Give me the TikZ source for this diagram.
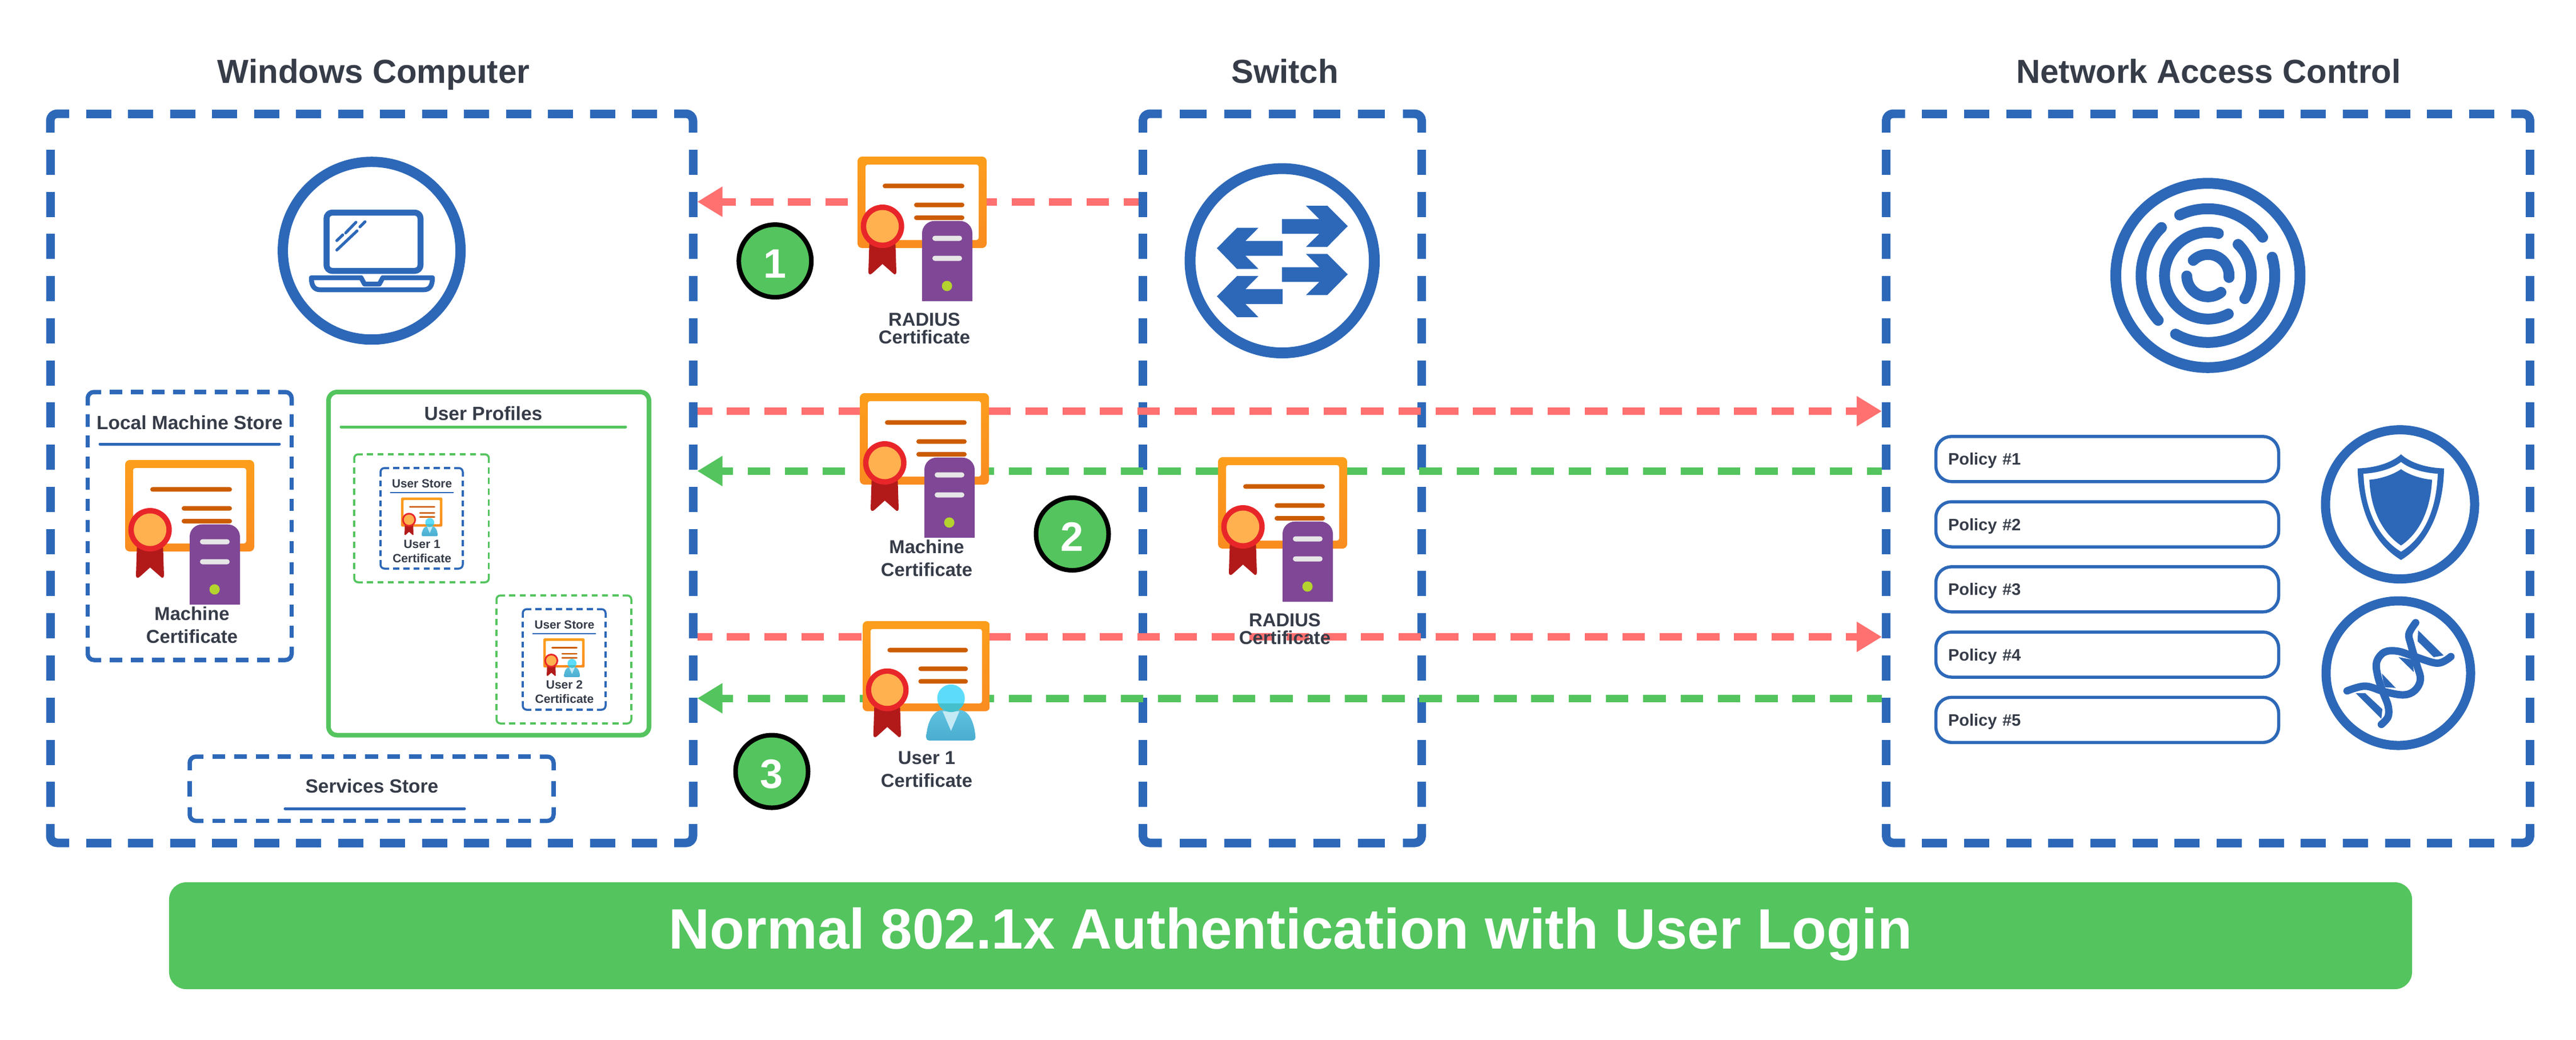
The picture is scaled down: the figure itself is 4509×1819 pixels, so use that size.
\documentclass[tikz,border=0pt]{standalone}
\usepackage{fontspec}
\setmainfont{Liberation Sans}
\usetikzlibrary{arrows.meta}
\definecolor{netblue}{HTML}{2D68B8}
\definecolor{okgreen}{HTML}{54C45E}
\definecolor{reqred}{HTML}{FF7070}
\definecolor{inkdark}{HTML}{363C48}
\definecolor{certtop}{HTML}{FC9E1C}
\definecolor{certbot}{HTML}{FA8C20}
\definecolor{certline}{HTML}{CC5C00}
\definecolor{ribbon}{HTML}{B21A1A}
\definecolor{medalring}{HTML}{E8262A}
\definecolor{medalcore}{HTML}{FFB04F}
\definecolor{srvpurple}{HTML}{7F4796}
\definecolor{srvslot}{HTML}{E6E6E6}
\definecolor{srvled}{HTML}{B5D32E}
\definecolor{userhead}{HTML}{5CDCFA}
\definecolor{usertop}{HTML}{5FC2E0}
\definecolor{userbot}{HTML}{4AADD0}
\definecolor{userneck}{HTML}{45BFCB}
\definecolor{usertie}{HTML}{C4EAF5}
\tikzset{
  head_text/.style={anchor=base,text=inkdark,font=\bfseries\fontsize{11.65}{14}\selectfont},
  store_text/.style={anchor=base,text=inkdark,font=\bfseries\fontsize{6.7}{8}\selectfont},
  cert_text/.style={anchor=base,text=inkdark,align=center,font=\bfseries\fontsize{6.55}{8}\selectfont},
  tight_text/.style={anchor=base,text=inkdark,align=center,font=\bfseries\fontsize{6.55}{6.2}\selectfont},
  mini_title/.style={anchor=base,text=inkdark,font=\bfseries\fontsize{4.15}{5}\selectfont},
  mini_text/.style={anchor=base,text=inkdark,align=center,font=\bfseries\fontsize{4.2}{5}\selectfont},
  big_box/.style={outer sep=1.5pt,minimum height=255.2pt,inner sep=0pt},
  frame_big/.style={netblue,line width=3pt,rounded corners=2.4pt},
  frame_mid/.style={netblue,line width=1.5pt,rounded corners=2.2pt},
  frame_miniblue/.style={netblue,line width=.7pt,rounded corners=1.4pt},
  frame_minigreen/.style={okgreen,line width=.7pt,rounded corners=1.4pt},
  icon_ring/.style={circle,draw=netblue,line width=#1,inner sep=0pt},
  policy_box/.style={draw=netblue,line width=1.1pt,rounded corners=5.5pt,text=inkdark,align=left,minimum height=15.8pt,text width=111.4pt,text depth=0pt,inner xsep=4.3pt,inner ysep=0pt,font=\bfseries\fontsize{5.8}{7}\selectfont},
  step_mark/.style={circle,fill=okgreen,draw=black,line width=1.6pt,minimum size=25.4pt,inner sep=0pt,text=white,text height=11.8pt,text depth=0pt,font=\bfseries\fontsize{14.4}{16}\selectfont},
  req_arrow/.style={draw=reqred,line width=2.6pt,dash pattern=on 7.9pt off 5.16pt,dash phase=2.7pt,->},
  ok_arrow/.style={draw=okgreen,line width=2.6pt,dash pattern=on 7.9pt off 5.16pt,dash phase=2.7pt,->},
}
% fits whole dashes between the corner pieces of a side
\newcommand{\dashfit}[3]{%
  \pgfmathsetmacro{\fitlen}{#1}
  \pgfmathsetmacro{\fitn}{max(1,round((\fitlen-#3)/(#2+#3)))}
  \pgfmathsetmacro{\fitf}{\fitlen/(\fitn*(#2+#3)+#3)}
  \pgfmathsetmacro{\fitdash}{.2*#2*\fitf}
  \pgfmathsetmacro{\fitgap}{#3*\fitf}
  \pgfmathsetmacro{\fitgappt}{.2*\fitgap}}
% style, left, top, right, bottom, corner leg, dash, gap
\newcommand{\dashframe}[8]{%
  \draw [#1] ({#2+#6},#3) -- (#2,#3) -- (#2,{#3+#6});
  \draw [#1] ({#4-#6},#3) -- (#4,#3) -- (#4,{#3+#6});
  \draw [#1] ({#2+#6},#5) -- (#2,#5) -- (#2,{#5-#6});
  \draw [#1] ({#4-#6},#5) -- (#4,#5) -- (#4,{#5-#6});
  \dashfit{#4-#2-2*#6}{#7}{#8}
  \draw [#1,dash pattern=on \fitdash pt off \fitgappt pt] ({#2+#6+\fitgap},#3) -- ({#4-#6-\fitgap},#3);
  \draw [#1,dash pattern=on \fitdash pt off \fitgappt pt] ({#2+#6+\fitgap},#5) -- ({#4-#6-\fitgap},#5);
  \dashfit{#5-#3-2*#6}{#7}{#8}
  \draw [#1,dash pattern=on \fitdash pt off \fitgappt pt] (#2,{#3+#6+\fitgap}) -- (#2,{#5-#6-\fitgap});
  \draw [#1,dash pattern=on \fitdash pt off \fitgappt pt] (#4,{#3+#6+\fitgap}) -- (#4,{#5-#6-\fitgap});}
% certificate sheet with ribbon, origin at the top left corner of the frame
\newcommand{\certbase}[3]{%
  \begin{scope}[shift={(#1,#2)},scale=#3]
    \pgfmathsetmacro{\certr}{#3*1.6}
    \pgfmathsetmacro{\certm}{#3*.8}
    \shade[top color=certtop,bottom color=certbot,rounded corners=\certr pt] (0,0) rectangle (226,160);
    \fill[white,rounded corners=\certm pt] (14,14) rectangle (212,146);
    \fill[certline,rounded corners=\certm pt] (44,47.4) rectangle (187,55.4);
    \fill[certline,rounded corners=\certm pt] (99,80.6) rectangle (187,88.6);
    \fill[certline,rounded corners=\certm pt] (99,103) rectangle (187,111);
    \fill[ribbon] (21,140) -- (66,140) -- (68,202) .. controls (68,207) and (64,207) .. (62,204) -- (43.7,188) -- (26,204) .. controls (23,207) and (19,207) .. (19,202) -- cycle;
    \fill[medalring] (43.7,122) circle (38);
    \fill[medalcore] (43.7,122) circle (28.5);
  \end{scope}}
\newcommand{\certserver}[3]{%
  \certbase{#1}{#2}{#3}
  \begin{scope}[shift={(#1,#2)},scale=#3]
    \pgfmathsetmacro{\certm}{#3*.9}
    \fill[srvpurple] (113,253) -- (113,134) .. controls (113,122) and (123,112.6) .. (135,112.6) -- (179,112.6) .. controls (191,112.6) and (201,122) .. (201,134) -- (201,253) -- cycle;
    \fill[srvslot,rounded corners=\certm pt] (131,138.5) rectangle (183,147.5);
    \fill[srvslot,rounded corners=\certm pt] (131,173.5) rectangle (183,182.5);
    \fill[srvled] (156.6,226.4) circle (9);
  \end{scope}}
\newcommand{\certuser}[3]{%
  \certbase{#1}{#2}{#3}
  \begin{scope}[shift={(#1,#2)},scale=#3]
    \shade[top color=usertop,bottom color=userbot] (113,207) .. controls (114,182) and (124,158) .. (142,158) -- (172,158) .. controls (190,158) and (199,182) .. (200.5,207) .. controls (200.5,210) and (198,212) .. (195,212) -- (118,212) .. controls (115,212) and (113,210) .. (113,207) -- cycle;
    \fill[usertie] (142,160) -- (172,160) -- (157,195) -- cycle;
    \fill[userhead] (157,137) circle (24.5);
    \begin{scope}
      \clip (100,147) rectangle (210,170);
      \fill[userneck] (157,137) circle (24.5);
    \end{scope}
  \end{scope}}
\begin{document}
\begin{tikzpicture}[x=.2pt,y=-.2pt,>={Triangle[length=8.8pt,width=10pt]},line join=bevel]
\useasboundingbox (0,0) rectangle (4509,1819);
%%
\node (title_windows) at (654,145) [head_text] {Windows Computer};
\node (title_switch) at (2249,145) [head_text] {Switch};
\node (title_nac) at (3866,145) [head_text] {Network Access Control};
\node (box_windows) at (650.5,837) [big_box,minimum width=225pt] {};
\node (box_switch) at (2244.5,837) [big_box,minimum width=97.6pt] {};
\node (box_nac) at (3865,837) [big_box,minimum width=225.4pt] {};
\dashframe{frame_big}{88}{199}{1213}{1475}{33}{44}{29.7}
\dashframe{frame_big}{2000.5}{199}{2488.5}{1475}{33}{44}{29.7}
\dashframe{frame_big}{3301.5}{199}{4428.5}{1475}{33}{44}{29.7}
%% computer side
\node (ring_laptop) at (650.6,438.7) [icon_ring=3.6pt,minimum size=62.2pt] {};
\draw [netblue,line width=2.1pt,rounded corners=2pt] (571.6,372) rectangle (736,474);
\draw [netblue,line width=1.7pt,line join=round] (545,486) -- (632,486) -- (638,497) -- (664,497) -- (670,486) -- (757,486) .. controls (757,500) and (752,507) .. (742,507) -- (560,507) .. controls (550,507) and (545,500) .. (545,486) -- cycle;
\draw [netblue,line width=1pt,line cap=round] (589.6,437.5) -- (625,404);
\draw [netblue,line width=1pt,line cap=round] (589.6,421) -- (600,411);
\draw [netblue,line width=1pt,line cap=round] (605,407.6) -- (623,389);
\draw [netblue,line width=1pt,line cap=round] (630,397) -- (639,388);
\dashframe{frame_mid}{153.5}{686}{510.5}{1155}{23.5}{22}{15.5}
\node (text_local) at (332,751) [store_text] {Local Machine Store};
\draw [netblue,line width=1pt,line cap=round] (175,777) -- (489,777);
\certserver{219}{805}{1}
\node (text_machine_local) at (336,1125) [cert_text] {Machine\\Certificate};
\node (box_profiles) at (855.5,986.25) [draw=okgreen,line width=1.6pt,rounded corners=3pt,minimum width=112.2pt,minimum height=120.1pt,inner sep=0pt] {};
\node (text_profiles) at (846,735) [store_text] {User Profiles};
\draw [okgreen,line width=1pt,line cap=round] (597,747) -- (1095,747);
\dashframe{frame_minigreen}{620}{795}{855.7}{1019}{15}{11}{7.8}
\dashframe{frame_miniblue}{666}{819}{810}{995}{15}{11}{7.2}
\node (text_store1) at (738.6,853.6) [mini_title] {User Store};
\draw [netblue,line width=.4pt] (682.5,862) -- (793.6,862);
\certuser{702}{870.5}{.32}
\node (text_user1) at (738.6,984) [mini_text] {User 1\\Certificate};
\dashframe{frame_minigreen}{869}{1042}{1105}{1266}{15}{11}{7.8}
\dashframe{frame_miniblue}{915}{1066}{1060}{1242}{15}{11}{7.2}
\node (text_store2) at (988,1100) [mini_title] {User Store};
\draw [netblue,line width=.4pt] (932,1109) -- (1043,1109);
\certuser{951}{1117}{.32}
\node (text_user2) at (988,1230) [mini_text] {User 2\\Certificate};
\dashframe{frame_mid}{332}{1324}{969}{1436.5}{24}{22}{15.5}
\node (text_services) at (651,1387) [store_text] {Services Store};
\draw [netblue,line width=1pt,line cap=round] (499,1415) -- (813,1415);
%% switch icon
\node (ring_switch) at (2244.3,456.3) [icon_ring=3.8pt,minimum size=64.5pt] {};
\fill [netblue] (2244,383.3) -- (2309.3,383.3) -- (2286,360) -- (2323.3,360) -- (2359,395.7) -- (2323.3,432) -- (2286,432) -- (2309.3,409) -- (2244,409) -- cycle;
\fill [netblue] (2244,467.6) -- (2309.3,467.6) -- (2286,444.3) -- (2323.3,444.3) -- (2359,480) -- (2323.3,516.3) -- (2286,516.3) -- (2309.3,493.3) -- (2244,493.3) -- cycle;
\fill [netblue] (2245,421.7) -- (2180,421.7) -- (2202.7,398.7) -- (2165.3,398.7) -- (2130,434.3) -- (2165.3,470.7) -- (2202.7,470.7) -- (2180,447.7) -- (2245,447.7) -- cycle;
\fill [netblue] (2245,506) -- (2180,506) -- (2202.7,483) -- (2165.3,483) -- (2130,518.6) -- (2165.3,555) -- (2202.7,555) -- (2180,532) -- (2245,532) -- cycle;
%% access control icons
\node (ring_nac) at (3864.7,482) [icon_ring=3.8pt,minimum size=64.5pt] {};
\begin{scope}[shift={(3864.7,482.3)},x=1pt,y=1pt,netblue,line width=3.8pt,line cap=round]
  \draw (115:23.4) arc[start angle=115,end angle=35,radius=23.4pt];
  \draw (16:23.4) arc[start angle=16,end angle=-119,radius=23.4pt];
  \draw (134:23.4) arc[start angle=134,end angle=222,radius=23.4pt];
  \draw (76:15.2) arc[start angle=76,end angle=298,radius=15.2pt];
  \draw (46:15.2) arc[start angle=46,end angle=-32,radius=15.2pt];
  \draw (134:7.4) arc[start angle=134,end angle=-5,radius=7.4pt];
  \draw (181:7.4) arc[start angle=181,end angle=308,radius=7.4pt];
\end{scope}
\node (policy_1) at (3688.5,803.3) [policy_box] {Policy \#1};
\node (policy_2) at (3688.5,917.5) [policy_box] {Policy \#2};
\node (policy_3) at (3688.5,1031.3) [policy_box] {Policy \#3};
\node (policy_4) at (3688.5,1145.5) [policy_box] {Policy \#4};
\node (policy_5) at (3688.5,1259.8) [policy_box] {Policy \#5};
\node (ring_shield) at (4201,882.6) [icon_ring=3.2pt,minimum size=52.2pt] {};
\fill [netblue] (4202.7,795) .. controls (4185,811) and (4155,819) .. (4126.7,819.6) .. controls (4128,885) and (4150,948) .. (4202.7,980) .. controls (4255,948) and (4277,885) .. (4278,819.6) .. controls (4250,819) and (4220,811) .. (4202.7,795) -- cycle;
\fill [white] (4202.7,808.5) .. controls (4187,821) and (4160,828) .. (4137,829) .. controls (4139,885) and (4158,938) .. (4202.7,965.4) .. controls (4247,938) and (4265,885) .. (4267,829) .. controls (4245,828) and (4218,821) .. (4202.7,808.5) -- cycle;
\fill [netblue] (4202.7,821) .. controls (4190,830) and (4168,838) .. (4147.3,839.5) .. controls (4149,885) and (4166,930) .. (4202.7,954.6) .. controls (4239,930) and (4255,885) .. (4257,839.5) .. controls (4237,838) and (4215,830) .. (4202.7,821) -- cycle;
\node (ring_dna) at (4198,1178) [icon_ring=3.2pt,minimum size=50.6pt] {};
\draw [netblue,line width=2.6pt,line cap=round,line join=round] plot [smooth,tension=.6] coordinates {(4108.3,1209) (4140,1200.7) (4173.3,1210.3) (4206.7,1216) (4226.7,1208.4) (4236.7,1189) (4230,1162.5) (4220,1128) (4216.7,1109) (4228.3,1089.7)};
\draw [netblue,line width=2.6pt,line cap=round,line join=round] plot [smooth,tension=.6] coordinates {(4168.3,1267.7) (4180,1254.3) (4180,1235) (4170,1208.4) (4161.7,1181.6) (4160,1158.6) (4173.3,1141.4) (4196.7,1139.5) (4226.7,1149) (4266.7,1160.5) (4290,1149)};
\fill [netblue] (4123.3,1213) -- (4140,1213) -- (4170,1241) -- (4168.3,1258) -- cycle;
\fill [netblue] (4232.7,1103) -- (4277.3,1147) -- (4260,1150) -- (4231.7,1122) -- cycle;
\fill [netblue] (4198.3,1150) -- (4223.3,1154.5) -- (4225,1176) -- cycle;
\fill [netblue] (4169,1178.5) -- (4193.3,1203.8) -- (4175,1202.6) -- (4171.7,1193) -- cycle;
%% message rows
\coordinate (row_1) at (0,353);
\coordinate (row_2a) at (0,719.6);
\coordinate (row_2b) at (0,824.3);
\coordinate (row_3a) at (0,1114.5);
\coordinate (row_3b) at (0,1222);
\draw [req_arrow] (box_switch.west |- row_1) -- (box_windows.east |- row_1);
\draw [req_arrow] (box_windows.east |- row_2a) -- (box_nac.west |- row_2a);
\draw [ok_arrow] (box_nac.west |- row_2b) -- (box_windows.east |- row_2b);
\draw [req_arrow] (box_windows.east |- row_3a) -- (box_nac.west |- row_3a);
\draw [ok_arrow] (box_nac.west |- row_3b) -- (box_windows.east |- row_3b);
%% certificates on the wire
\certserver{1501}{274}{1}
\node (text_radius1) at (1618,601) [tight_text] {RADIUS\\Certificate};
\certserver{1505}{688}{1}
\node (text_machine) at (1622,1008) [cert_text] {Machine\\Certificate};
\certserver{2132}{800}{1}
\node (text_radius2) at (2249,1127) [tight_text] {RADIUS\\Certificate};
\certuser{1510}{1087}{.985}
\node (text_user) at (1622,1377) [cert_text] {User 1\\Certificate};
\node (step_1) at (1356.7,456.6) [step_mark] {1};
\node (step_2) at (1877,934.5) [step_mark] {2};
\node (step_3) at (1351,1350) [step_mark] {3};
\node (banner) at (2259,1637.5) [fill=okgreen,rounded corners=6pt,minimum width=785.2pt,minimum height=37.4pt,text=white,text depth=5.4pt,font=\bfseries\fontsize{19.93}{24}\selectfont] {Normal 802.1x Authentication with User Login};
%
\end{tikzpicture}
\end{document}
